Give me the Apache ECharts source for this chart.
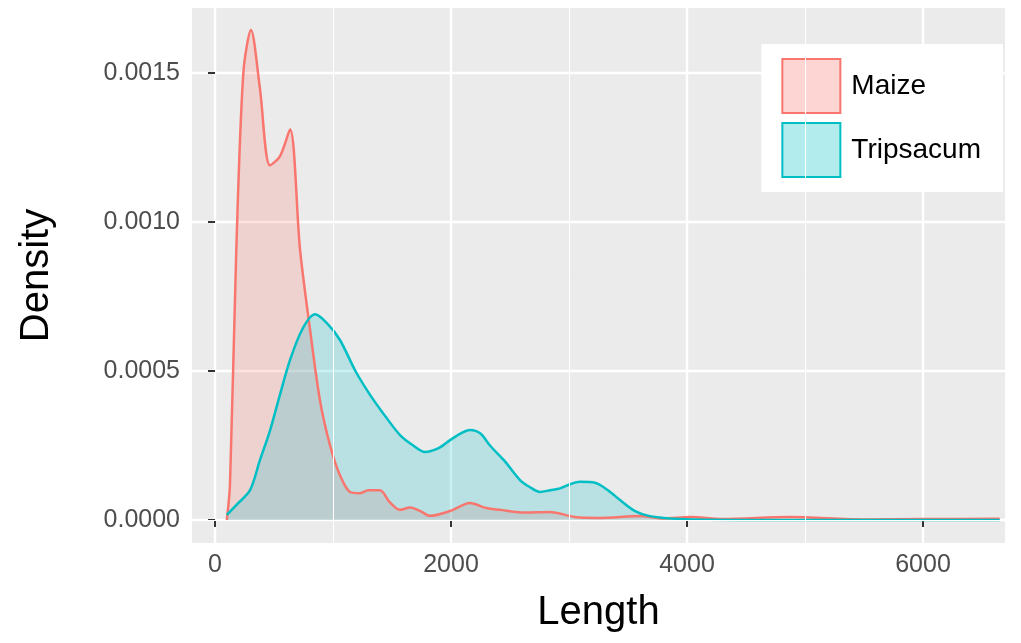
<!DOCTYPE html>
<html><head><meta charset="utf-8">
<script src="https://cdn.jsdelivr.net/npm/echarts@6/dist/echarts.min.js"></script>
<style>body{margin:0}#c{width:1021px;height:643px}</style></head>
<body><div id="c"></div>
<script>
const maizeX = [100,127,180,240,305,380,466,550,636,720,805,890,975,1059,1144,1229,1300,1398,1480,1568,1653,1740,1822,1990,2161,2300,2415,2600,2839,3050,3263,3602,3800,4025,4300,4873,5500,6000,6650];
const maizeY = [0,0.00012,0.0009,0.0015,0.001644,0.00145,0.00119,0.00122,0.00131,0.00091,0.00064,0.0004,0.00025,0.00015,0.000094,0.00009,0.0001,0.0001,0.00006,0.000034,0.000042,0.00003,0.000014,0.00003,0.000057,0.00004,0.000034,0.000025,0.000027,0.00001,0.000007,0.000013,0.000005,0.000010,0.000003,0.000010,0.000002,0.000003,0.000004];
const tripX = [100,180,297,380,466,550,636,740,847,950,1059,1190,1314,1440,1568,1680,1780,1890,1992,2080,2161,2250,2330,2450,2585,2670,2754,2840,2924,3010,3093,3220,3330,3432,3560,3686,3941,4500,6650];
const tripY = [0.000017,0.00005,0.0001,0.0002,0.0003,0.00042,0.000537,0.00064,0.00069,0.00066,0.000604,0.0005,0.00042,0.00035,0.000285,0.00025,0.000228,0.00024,0.000268,0.00029,0.000302,0.00029,0.00025,0.0002,0.000134,0.00011,0.000094,0.0001,0.000106,0.00012,0.000128,0.000125,0.0001,0.000067,0.00003,0.000013,0.000003,0,0];
const xTicks = [0,2000,4000,6000];
const yTicks = [0,0.0005,0.001,0.0015];
const xMinor = [1000,3000,5000];
const yMinor = [0.00025,0.00075,0.00125];
const fmtY = v => v.toFixed(4);
const chart = echarts.init(document.getElementById('c'));
const font = 'Liberation Sans, Arial, sans-serif';
chart.setOption({
  animation:false,
  backgroundColor:'#fff',
  grid:{left:192,right:16,top:8,bottom:100,backgroundColor:'#EBEBEB',show:true,borderWidth:0,containLabel:false,outerBoundsMode:'none'},
  xAxis:{type:'value',min:-195,max:6695,name:'Length',nameLocation:'middle',nameGap:50,
    nameTextStyle:{fontSize:40,color:'#000',fontFamily:font},
    axisLine:{show:false},
    axisTick:{show:true,customValues:xTicks,length:7,lineStyle:{color:'#333',width:2}},
    axisLabel:{customValues:xTicks,formatter:v=>String(v),fontSize:25,color:'#4D4D4D',fontFamily:font,margin:10},
    splitLine:{show:true,lineStyle:{color:'#fff',width:2.4}}},
  yAxis:{type:'value',min:-0.0000772,max:0.001718,name:'Density',nameLocation:'middle',nameGap:135,
    nameTextStyle:{fontSize:40,color:'#000',fontFamily:font},
    axisLine:{show:false},
    axisTick:{show:true,customValues:yTicks,length:7,lineStyle:{color:'#333',width:2}},
    axisLabel:{customValues:yTicks,formatter:fmtY,fontSize:25,color:'#4D4D4D',fontFamily:font,margin:12},
    splitLine:{show:true,lineStyle:{color:'#fff',width:2.4}}},
  legend:{right:18,top:44,orient:'vertical',backgroundColor:'#fff',padding:[14,22,14,20],
    itemWidth:58,itemHeight:54,itemGap:8,icon:'rect',
    textStyle:{fontSize:28,color:'#000',fontFamily:font,padding:[0,0,0,6]}},
  series:[
    {name:'grid',type:'line',data:[],silent:true,
      markLine:{silent:true,symbol:'none',label:{show:false},lineStyle:{color:'#fff',width:1,type:'solid'},
        data:xMinor.map(v=>({xAxis:v})).concat(yMinor.map(v=>({yAxis:v})))}},
    {name:'Maize',type:'line',smooth:0.3,showSymbol:false,data:maizeX.map((x,i)=>[x,maizeY[i]]),
      lineStyle:{color:'#F8766D',width:2.5},itemStyle:{color:'rgba(248,118,109,0.3)',borderColor:'#F8766D',borderWidth:2.5},
      areaStyle:{color:'rgba(248,118,109,0.3)',origin:0}},
    {name:'Tripsacum',type:'line',smooth:0.3,showSymbol:false,data:tripX.map((x,i)=>[x,tripY[i]]),
      lineStyle:{color:'#00BFC4',width:2.5},itemStyle:{color:'rgba(0,191,196,0.3)',borderColor:'#00BFC4',borderWidth:2.5},
      areaStyle:{color:'rgba(0,191,196,0.3)',origin:0}}
  ]
});
chart.setOption({legend:{data:['Maize','Tripsacum']}});
</script></body></html>
